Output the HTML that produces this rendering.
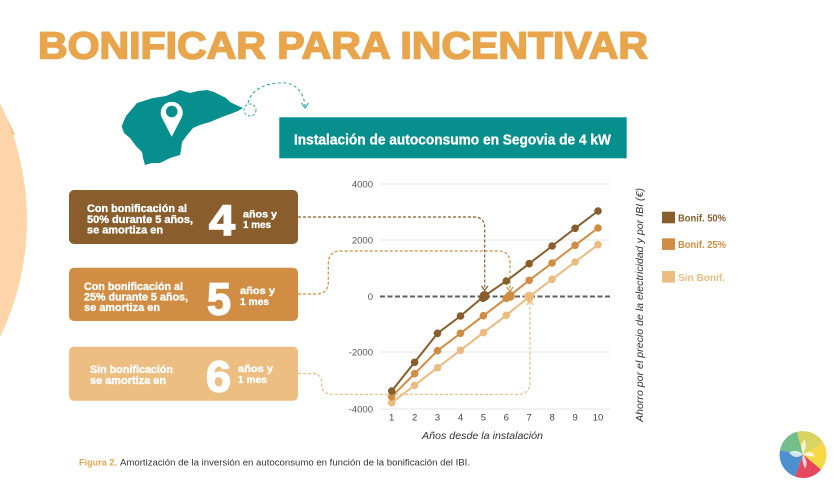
<!DOCTYPE html>
<html>
<head>
<meta charset="utf-8">
<style>
  html,body{margin:0;padding:0;background:#ffffff;}
  svg{display:block;}
  text{font-family:"Liberation Sans", sans-serif;}
</style>
</head>
<body>
<svg width="840" height="487" viewBox="0 0 840 487" xmlns="http://www.w3.org/2000/svg">
  <defs>
    <clipPath id="topclip"><rect x="-10" y="0" width="60" height="135"/></clipPath>
  </defs>
  <rect width="840" height="487" fill="#ffffff"/>

  <!-- left decorative circles -->
  <circle cx="-150" cy="200" r="177" fill="#fbb86e" clip-path="url(#topclip)"/>
  <circle cx="-240" cy="220" r="267" fill="#fed5a8"/>

  <!-- Title -->
  <text x="38" y="58.5" font-size="38" font-weight="bold" fill="#e8a54c" stroke="#e8a54c" stroke-width="1.6" stroke-linejoin="round" textLength="610" lengthAdjust="spacingAndGlyphs">BONIFICAR PARA INCENTIVAR</text>

  <!-- Map of Segovia -->
  <path d="M121.7,126 L126,116 L137,103 L153,98 L166,96 L180,90 L190,93 L198,91 L207,90 L214,92 L220,95 L226,98 L230,102 L236,105 L243,108 L238,111 L233,113 L222,117 L210,122 L200,125 L193,128 L188,134 L182,142 L181,150 L180,155 L170,158 L160,163 L152,163 L145,165 L143,158 L142,152 L136,146 L130,138 L124,133 Z" fill="#078f8d"/>
  <!-- pin -->
  <path d="M171.7,136.7 L162,118 A11,11 0 1 1 181.4,118 Z" fill="#ffffff"/>
  <circle cx="171.7" cy="111.5" r="5.8" fill="#078f8d"/>
  <!-- dashed arc and small circle -->
  <circle cx="250" cy="110" r="6" fill="none" stroke="#3aa5a3" stroke-width="1" stroke-dasharray="2.5 2"/>
  <path d="M248,103 C252,86 272,82 286,83 C298,85 304,94 305,106" fill="none" stroke="#3aa5a3" stroke-width="1.1" stroke-dasharray="3 2.5"/>
  <path d="M301.5,103 L305,108 L308.5,103" fill="none" stroke="#3aa5a3" stroke-width="1.1"/>

  <!-- Teal header box -->
  <rect x="279.3" y="117.3" width="347.4" height="41" fill="#078f8d"/>
  <text x="294" y="144.3" font-size="15" font-weight="bold" fill="#ffffff" stroke="#ffffff" stroke-width="0.3" textLength="317" lengthAdjust="spacingAndGlyphs">Instalación de autoconsumo en Segovia de 4 kW</text>

  <!-- Boxes -->
  <g font-weight="bold" fill="#ffffff" stroke="#ffffff" stroke-width="0.35">
  <rect x="69" y="190" width="229" height="54" rx="5" fill="#895e2c" stroke="none"/>
  <text x="87" y="212" font-size="11" textLength="100" lengthAdjust="spacingAndGlyphs">Con bonificación al</text>
  <text x="87" y="223" font-size="11" textLength="106" lengthAdjust="spacingAndGlyphs">50% durante 5 años,</text>
  <text x="87" y="233.5" font-size="11" textLength="76" lengthAdjust="spacingAndGlyphs">se amortiza en</text>
  <text x="209" y="235" font-size="43" stroke-width="1.5" textLength="26" lengthAdjust="spacingAndGlyphs">4</text>
  <text x="243" y="217.5" font-size="10.5" textLength="34" lengthAdjust="spacingAndGlyphs">años y</text>
  <text x="243" y="228" font-size="10.5" textLength="28" lengthAdjust="spacingAndGlyphs">1 mes</text>

  <rect x="69" y="267.7" width="229" height="53.3" rx="5" fill="#d18d43" stroke="none"/>
  <text x="84" y="290" font-size="11" textLength="99" lengthAdjust="spacingAndGlyphs">Con bonificación al</text>
  <text x="84" y="300.5" font-size="11" textLength="104" lengthAdjust="spacingAndGlyphs">25% durante 5 años,</text>
  <text x="84" y="311" font-size="11" textLength="76" lengthAdjust="spacingAndGlyphs">se amortiza en</text>
  <text x="207" y="314.5" font-size="45" stroke-width="1.5" textLength="24" lengthAdjust="spacingAndGlyphs">5</text>
  <text x="240" y="294" font-size="10.5" textLength="35" lengthAdjust="spacingAndGlyphs">años y</text>
  <text x="240" y="305" font-size="10.5" textLength="29" lengthAdjust="spacingAndGlyphs">1 mes</text>

  <rect x="69" y="346.7" width="229" height="54" rx="5" fill="#ecbe81" stroke="none"/>
  <text x="90" y="373" font-size="11" textLength="83" lengthAdjust="spacingAndGlyphs">Sin bonificación</text>
  <text x="90" y="384" font-size="11" textLength="76" lengthAdjust="spacingAndGlyphs">se amortiza en</text>
  <text x="206" y="391.5" font-size="44" stroke-width="1.5" textLength="25" lengthAdjust="spacingAndGlyphs">6</text>
  <text x="238" y="372" font-size="10.5" textLength="35" lengthAdjust="spacingAndGlyphs">años y</text>
  <text x="238" y="383" font-size="10.5" textLength="29" lengthAdjust="spacingAndGlyphs">1 mes</text>
  </g>

  <!-- Grid lines -->
  <g stroke="#e6e6e6" stroke-width="1">
    <line x1="380" y1="184" x2="610" y2="184"/>
    <line x1="380" y1="240" x2="610" y2="240"/>
    <line x1="380" y1="352" x2="610" y2="352"/>
    <line x1="380" y1="409" x2="610" y2="409"/>
  </g>
  <line x1="380" y1="296.5" x2="610" y2="296.5" stroke="#5f5f5f" stroke-width="2" stroke-dasharray="5 2.5"/>

  <!-- Y labels -->
  <g font-size="9.5" fill="#555555" text-anchor="end">
    <text x="373" y="187.5">4000</text>
    <text x="373" y="243.5">2000</text>
    <text x="373" y="300">0</text>
    <text x="373" y="355.5">-2000</text>
    <text x="373" y="412.5">-4000</text>
  </g>
  <!-- X labels -->
  <g font-size="9.5" fill="#444444" text-anchor="middle">
    <text x="391.7" y="420.5">1</text>
    <text x="414.6" y="420.5">2</text>
    <text x="437.5" y="420.5">3</text>
    <text x="460.5" y="420.5">4</text>
    <text x="483.4" y="420.5">5</text>
    <text x="506.3" y="420.5">6</text>
    <text x="529.2" y="420.5">7</text>
    <text x="552.1" y="420.5">8</text>
    <text x="575.1" y="420.5">9</text>
    <text x="598" y="420.5">10</text>
  </g>
  <text x="482.5" y="439" font-size="10.5" font-style="italic" fill="#333333" text-anchor="middle" textLength="121" lengthAdjust="spacingAndGlyphs">Años desde la instalación</text>

  <!-- Y axis title -->
  <text transform="translate(643,305) rotate(-90)" x="0" y="0" font-size="10.5" font-style="italic" fill="#333333" text-anchor="middle" textLength="234" lengthAdjust="spacingAndGlyphs">Ahorro por el precio de la electricidad y por IBI (€)</text>

  <!-- Dashed connectors -->
  <path d="M298,217 H474 Q484.7,217 484.7,228 V289" fill="none" stroke="#875e2c" stroke-width="1.2" stroke-dasharray="3 2"/>
  <path d="M481.5,286 L484.7,290.5 L487.9,286" fill="none" stroke="#875e2c" stroke-width="1.2"/>

  <path d="M298,294 H316 Q328.3,294 328.3,282 V264 Q328.3,251 341,251 H498 Q510,251 510,263 V290" fill="none" stroke="#d08c42" stroke-width="1.2" stroke-dasharray="3 2"/>
  <path d="M506.8,287 L510,291.5 L513.2,287" fill="none" stroke="#d08c42" stroke-width="1.2"/>

  <path d="M298,373.5 H312 Q321.7,373.5 321.7,383 V384 Q321.7,394.3 332,394.3 H518 Q530,394.3 530,382 V302" fill="none" stroke="#ebbb7f" stroke-width="1.2" stroke-dasharray="3 2"/>
  <path d="M526.8,305 L530,300.5 L533.2,305" fill="none" stroke="#ebbb7f" stroke-width="1.2"/>

  <!-- Series: Sin Bonif -->
  <polyline points="391.7,402.7 414.6,385.3 437.5,367.7 460.5,350.3 483.4,332.7 506.3,315.3 529.2,296.7 552.1,279.3 575.1,262 598,244.7" fill="none" stroke="#ebbb7f" stroke-width="2"/>
  <g fill="#ebbb7f">
    <circle cx="391.7" cy="402.7" r="3.8"/><circle cx="414.6" cy="385.3" r="3.8"/><circle cx="437.5" cy="367.7" r="3.8"/><circle cx="460.5" cy="350.3" r="3.8"/><circle cx="483.4" cy="332.7" r="3.8"/><circle cx="506.3" cy="315.3" r="3.8"/><circle cx="529.2" cy="296.7" r="5"/><circle cx="552.1" cy="279.3" r="3.8"/><circle cx="575.1" cy="262" r="3.8"/><circle cx="598" cy="244.7" r="3.8"/>
  </g>
  <!-- Series: Bonif 25 -->
  <polyline points="391.7,396.7 414.6,373.7 437.5,350.7 460.5,333.3 483.4,315.7 506.3,298.3 529.2,280.3 552.1,263 575.1,245.3 598,228" fill="none" stroke="#d08c42" stroke-width="2"/>
  <g fill="#d08c42">
    <circle cx="391.7" cy="396.7" r="3.8"/><circle cx="414.6" cy="373.7" r="3.8"/><circle cx="437.5" cy="350.7" r="3.8"/><circle cx="460.5" cy="333.3" r="3.8"/><circle cx="483.4" cy="315.7" r="3.8"/><circle cx="506.3" cy="298.3" r="3.8"/><circle cx="510" cy="296" r="4.8"/><circle cx="529.2" cy="280.3" r="3.8"/><circle cx="552.1" cy="263" r="3.8"/><circle cx="575.1" cy="245.3" r="3.8"/><circle cx="598" cy="228" r="3.8"/>
  </g>
  <!-- Series: Bonif 50 -->
  <polyline points="391.7,391 414.6,362.3 437.5,333.3 460.5,316 483.4,296.7 506.3,281 529.2,263.7 552.1,246 575.1,228.3 598,211" fill="none" stroke="#875e2c" stroke-width="2"/>
  <g fill="#875e2c">
    <circle cx="391.7" cy="391" r="3.8"/><circle cx="414.6" cy="362.3" r="3.8"/><circle cx="437.5" cy="333.3" r="3.8"/><circle cx="460.5" cy="316" r="3.8"/><circle cx="484.5" cy="296" r="5"/><circle cx="483" cy="298" r="4"/><circle cx="506.3" cy="281" r="3.8"/><circle cx="529.2" cy="263.7" r="3.8"/><circle cx="552.1" cy="246" r="3.8"/><circle cx="575.1" cy="228.3" r="3.8"/><circle cx="598" cy="211" r="3.8"/>
  </g>

  <!-- Legend -->
  <rect x="662" y="211.7" width="13" height="11.6" fill="#875e2c"/>
  <text x="678" y="221.5" font-size="10" font-weight="bold" fill="#875e2c" textLength="48" lengthAdjust="spacingAndGlyphs">Bonif. 50%</text>
  <rect x="662" y="238.3" width="13" height="11.6" fill="#d08c42"/>
  <text x="678" y="248.2" font-size="10" font-weight="bold" fill="#d08c42" textLength="48" lengthAdjust="spacingAndGlyphs">Bonif. 25%</text>
  <rect x="662" y="271" width="13" height="11.6" fill="#ecbd80"/>
  <text x="678" y="280.8" font-size="10" font-weight="bold" fill="#ecbd80" textLength="47" lengthAdjust="spacingAndGlyphs">Sin Bonif.</text>

  <!-- Caption -->
  <text x="79" y="465.5" font-size="9" font-weight="bold" fill="#e8a54c" textLength="38" lengthAdjust="spacingAndGlyphs">Figura 2.</text>
  <text x="120" y="465.5" font-size="9" fill="#333333" textLength="350" lengthAdjust="spacingAndGlyphs">Amortización de la inversión en autoconsumo en función de la bonificación del IBI.</text>

  <!-- Logo -->
  <g transform="translate(803,454.5)">
    <path d="M0,0 L-23.1,-4 A23.5,23.5 0 0 1 -6,-22.7 Z" fill="#72be8c"/>
    <path d="M0,0 L-6,-22.7 A23.5,23.5 0 0 1 20.4,-11.7 Z" fill="#d9d462"/>
    <path d="M0,0 L20.4,-11.7 A23.5,23.5 0 0 1 18,15.1 Z" fill="#f6d847"/>
    <path d="M0,0 L18,15.1 A23.5,23.5 0 0 1 -8,22.1 Z" fill="#e6485e"/>
    <path d="M0,0 L-8,22.1 A23.5,23.5 0 0 1 -23.1,-4 Z" fill="#4c90cf"/>
    <path d="M-14,-2 Q-6,-6 0,0 Q-4,-10 2,-15 Q4,-6 0,0 Q8,-6 12,2 Q4,2 0,0 Q6,8 2,14 Q-2,6 0,0 Q-8,6 -14,-2 Z" fill="#ffffff" opacity="0.75"/>
  </g>
</svg>
</body>
</html>
